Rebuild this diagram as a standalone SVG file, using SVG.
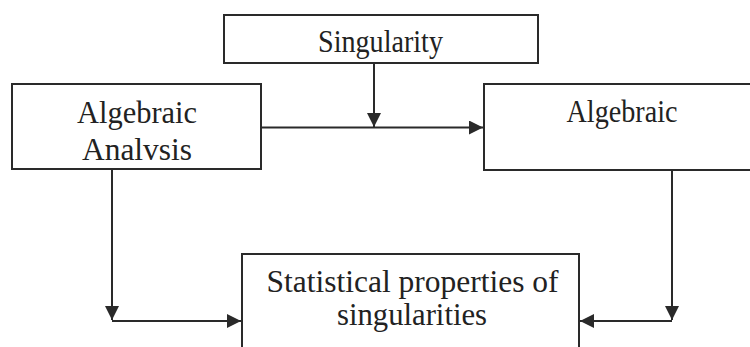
<svg xmlns="http://www.w3.org/2000/svg" width="750" height="347" viewBox="0 0 750 347">
<style>
.box{fill:#fff;stroke:#2a2a2a;stroke-width:2}
.t{font-family:"Liberation Serif","Times New Roman",serif;font-size:31px;fill:#222;text-anchor:middle}
.c{fill:none;stroke:#2a2a2a;stroke-width:2}
</style>
<defs>
<marker id="ah" viewBox="0 0 10 10" refX="10" refY="5" markerWidth="7.5" markerHeight="7" markerUnits="strokeWidth" orient="auto">
<path d="M0,0 L10,5 L0,10 Z" fill="#2a2a2a"/>
</marker>
</defs>
<rect width="750" height="347" fill="#fff"/>
<g id="singularity">
<rect class="box" x="224" y="15" width="314" height="48"/>
<text class="t" x="380.5" y="52" textLength="125" lengthAdjust="spacingAndGlyphs">Singularity</text>
</g>
<g id="algebraic-analysis">
<rect class="box" x="12" y="84" width="249" height="85"/>
<text class="t" x="137" y="123" textLength="120" lengthAdjust="spacingAndGlyphs">Algebraic</text>
<text class="t" x="137" y="160" textLength="110" lengthAdjust="spacingAndGlyphs">Analvsis</text>
</g>
<g id="algebraic">
<rect class="box" x="484" y="84" width="280" height="86"/>
<text class="t" x="622" y="122" textLength="111" lengthAdjust="spacingAndGlyphs">Algebraic</text>
</g>
<g id="statistical">
<rect class="box" x="242" y="254" width="337" height="100"/>
<text class="t" x="412.5" y="292" textLength="292" lengthAdjust="spacingAndGlyphs">Statistical properties of</text>
<text class="t" x="412" y="325" textLength="150" lengthAdjust="spacingAndGlyphs">singularities</text>
</g>
<g id="connectors">
<path class="c" d="M261,127.5 H483" marker-end="url(#ah)"/>
<path class="c" d="M374,63 V127" marker-end="url(#ah)"/>
<path class="c" d="M112,169 V320" marker-end="url(#ah)"/>
<path class="c" d="M112,321 H241" marker-end="url(#ah)"/>
<path class="c" d="M672,170 V320" marker-end="url(#ah)"/>
<path class="c" d="M672,321 H580" marker-end="url(#ah)"/>
</g>
</svg>
